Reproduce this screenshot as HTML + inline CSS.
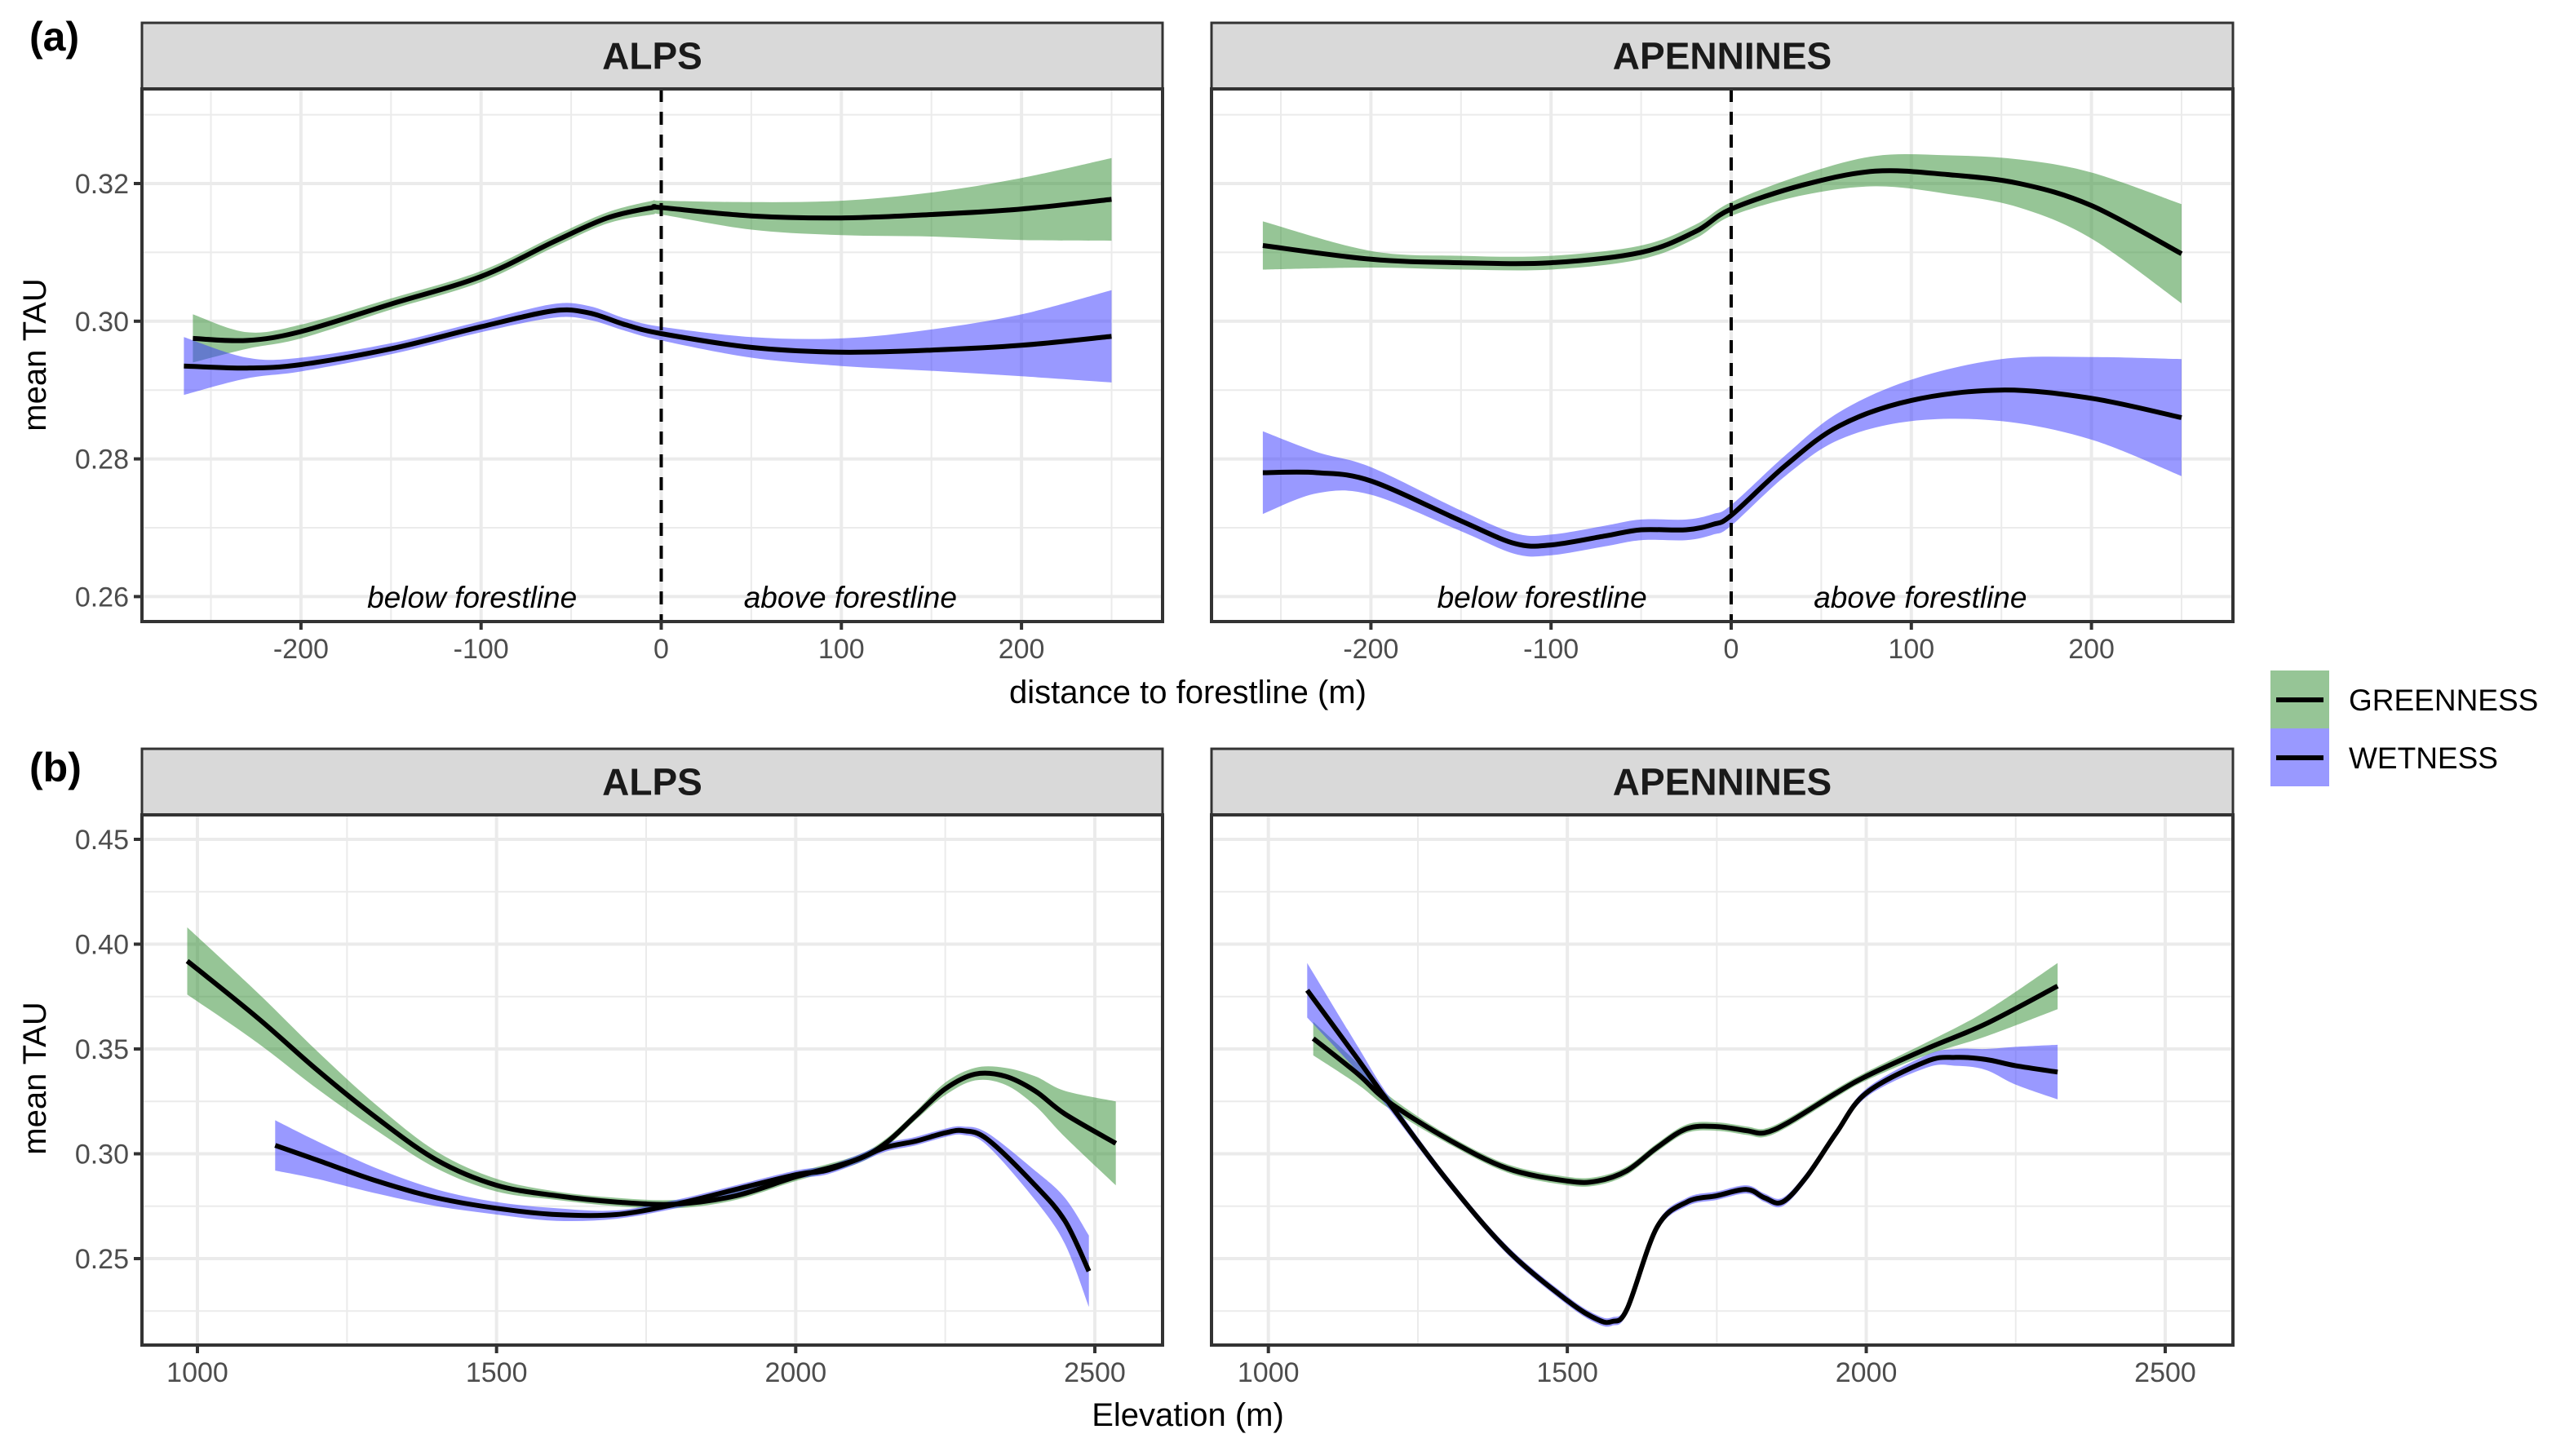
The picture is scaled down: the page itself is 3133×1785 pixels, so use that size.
<!DOCTYPE html>
<html><head><meta charset="utf-8">
<style>
html,body{margin:0;padding:0;background:#fff;}
svg{display:block;font-family:"Liberation Sans",Arial,sans-serif;}
</style></head>
<body>
<svg id="chart" width="3133" height="1785" viewBox="0 0 3133 1785" xmlns="http://www.w3.org/2000/svg">
<g id="root"></g>
</svg>
<script>
// ---- Panel (a): distance to forestline ----
const alpsDistX = [-260,-230,-200,-150,-100,-60,-30,-5,0,50,100,150,200,250];
const alpsGreenA = [0.2975,0.2972,0.2985,0.3025,0.3065,0.3115,0.3150,0.3165,0.3165,0.3153,0.3150,0.3155,0.3163,0.3177];
const alpsGreenAHw = [0.0035,0.0012,0.0010,0.0008,0.0008,0.0008,0.0008,0.0010,0.0010,0.0020,0.0025,0.0032,0.0045,0.0060];
const alpsWetDistX = [-265,-230,-200,-150,-100,-60,-40,-20,0,50,100,150,200,250];
const alpsWetA = [0.2935,0.2932,0.2937,0.2960,0.2992,0.3015,0.3012,0.2995,0.2982,0.2962,0.2955,0.2958,0.2965,0.2978];
const alpsWetAHw = [0.0042,0.0015,0.0010,0.0008,0.0008,0.0010,0.0010,0.0009,0.0010,0.0015,0.0020,0.0030,0.0045,0.0067];
const apeDistX = [-260,-200,-150,-100,-50,-20,0,40,80,120,160,200,250];
const apeGreenA = [0.3110,0.3090,0.3085,0.3085,0.3100,0.3130,0.3163,0.3198,0.3218,0.3213,0.3200,0.3168,0.3098];
const apeGreenAHw = [0.0035,0.0012,0.0010,0.0010,0.0010,0.0010,0.0010,0.0015,0.0022,0.0028,0.0035,0.0048,0.0072];
const apeWetDistX = [-260,-230,-200,-150,-120,-100,-70,-50,-25,-10,0,30,60,100,150,200,250];
const apeWetA = [0.2780,0.2780,0.2768,0.2710,0.2677,0.2675,0.2688,0.2697,0.2697,0.2705,0.2718,0.2790,0.2848,0.2885,0.2900,0.2888,0.2860];
const apeWetAHw = [0.0060,0.0030,0.0020,0.0015,0.0015,0.0015,0.0015,0.0015,0.0015,0.0015,0.0015,0.0015,0.0020,0.0030,0.0045,0.0060,0.0085];
const distTicks = [-200,-100,0,100,200];
const distTickLabels = ["-200","-100","0","100","200"];
const tauTicksA = [0.26,0.28,0.30,0.32];
const tauTickLabelsA = ["0.26","0.28","0.30","0.32"];

// ---- Panel (b): elevation ----
const alpsElevG = [983,1100,1200,1300,1400,1500,1600,1700,1800,1900,2000,2100,2150,2200,2250,2300,2350,2400,2450,2535];
const alpsGreenB = [0.392,0.365,0.340,0.317,0.297,0.285,0.280,0.277,0.276,0.280,0.289,0.297,0.305,0.318,0.331,0.338,0.337,0.330,0.319,0.305];
const alpsGreenBHw = [0.016,0.012,0.009,0.006,0.004,0.003,0.002,0.002,0.002,0.002,0.002,0.002,0.002,0.002,0.003,0.003,0.004,0.007,0.011,0.020];
const alpsElevW = [1130,1200,1300,1400,1500,1600,1700,1800,1900,2000,2050,2100,2150,2200,2250,2280,2320,2400,2450,2490];
const alpsWetB = [0.304,0.297,0.287,0.279,0.274,0.271,0.271,0.276,0.283,0.290,0.292,0.297,0.303,0.306,0.310,0.311,0.307,0.285,0.268,0.244];
const alpsWetBHw = [0.012,0.009,0.006,0.004,0.003,0.003,0.002,0.002,0.002,0.002,0.002,0.002,0.002,0.002,0.002,0.002,0.003,0.007,0.011,0.017];
const apeElevG = [1075,1150,1200,1300,1400,1500,1550,1600,1650,1700,1750,1800,1830,1870,1950,2000,2100,2200,2320];
const apeGreenB = [0.355,0.338,0.325,0.307,0.293,0.287,0.287,0.292,0.303,0.312,0.313,0.311,0.310,0.315,0.329,0.337,0.350,0.362,0.380];
const apeGreenBHw = [0.008,0.005,0.003,0.002,0.002,0.002,0.002,0.002,0.002,0.002,0.002,0.002,0.002,0.002,0.002,0.002,0.003,0.006,0.011];
const apeElevW = [1065,1150,1200,1300,1400,1500,1550,1575,1600,1650,1700,1750,1800,1830,1860,1900,1950,2000,2100,2150,2200,2250,2320];
const apeWetB = [0.378,0.345,0.325,0.287,0.254,0.230,0.221,0.220,0.226,0.265,0.277,0.280,0.283,0.279,0.277,0.289,0.310,0.329,0.344,0.346,0.345,0.342,0.339];
const apeWetBHw = [0.013,0.006,0.003,0.002,0.002,0.002,0.002,0.002,0.002,0.002,0.002,0.002,0.002,0.002,0.002,0.002,0.002,0.002,0.003,0.004,0.005,0.009,0.013];
const elevTicks = [1000,1500,2000,2500];
const elevTickLabels = ["1000","1500","2000","2500"];
const tauTicksB = [0.25,0.30,0.35,0.40,0.45];
const tauTickLabelsB = ["0.25","0.30","0.35","0.40","0.45"];

const NS = "http://www.w3.org/2000/svg";
const root = document.getElementById('root');
function mk(tag, attrs, parent){
  const e = document.createElementNS(NS, tag);
  for (const k in attrs) e.setAttribute(k, attrs[k]);
  (parent||root).appendChild(e);
  return e;
}
function smoothPath(pts){
  let d = "M"+pts[0][0].toFixed(1)+","+pts[0][1].toFixed(1);
  for (let i=0;i<pts.length-1;i++){
    const p0=pts[i-1]||pts[i], p1=pts[i], p2=pts[i+1], p3=pts[i+2]||p2;
    const c1=[p1[0]+(p2[0]-p0[0])/6, p1[1]+(p2[1]-p0[1])/6];
    const c2=[p2[0]-(p3[0]-p1[0])/6, p2[1]-(p3[1]-p1[1])/6];
    d+=" C"+c1[0].toFixed(1)+","+c1[1].toFixed(1)+" "+c2[0].toFixed(1)+","+c2[1].toFixed(1)+" "+p2[0].toFixed(1)+","+p2[1].toFixed(1);
  }
  return d;
}
function linScale(v0,p0,v1,p1){ return v => p0 + (v-v0)*(p1-p0)/(v1-v0); }

function panel(cfg){
  const g = mk('g',{});
  
  
  const {L,R,T,B,sy} = cfg;
  const xs = cfg.xs, ys = cfg.ys;
  const strip = mk('rect',{x:L,y:sy,width:R-L,height:T-sy,fill:'#d9d9d9',stroke:'#333',"stroke-width":3},g);
  
  
  const st = mk('text',{x:(L+R)/2,y:(sy+T)/2+16,"text-anchor":"middle","font-size":46,"font-weight":"bold",fill:'#1a1a1a'},g);
  st.textContent = cfg.title;
  
  
  const grid = mk('g',{},g);
  
  
  cfg.xMinor.forEach(v=>{const x=xs(v); if(x>L&&x<R) mk('line',{x1:x,x2:x,y1:T,y2:B,stroke:'#ebebeb',"stroke-width":2},grid);});
  cfg.yMinor.forEach(v=>{const y=ys(v); if(y>T&&y<B) mk('line',{x1:L,x2:R,y1:y,y2:y,stroke:'#ebebeb',"stroke-width":2},grid);});
  cfg.xTicks.forEach(v=>{const x=xs(v); mk('line',{x1:x,x2:x,y1:T,y2:B,stroke:'#ebebeb',"stroke-width":4},grid);});
  cfg.yTicks.forEach(v=>{const y=ys(v); mk('line',{x1:L,x2:R,y1:y,y2:y,stroke:'#ebebeb',"stroke-width":4},grid);});
  cfg.series.forEach(s=>{
    const up = s.x.map((v,i)=>[xs(v), ys(s.y[i]+s.hw[i])]);
    const lo = s.x.map((v,i)=>[xs(v), ys(s.y[i]-s.hw[i])]).reverse();
    let d = smoothPath(up);
    d += " L"+lo[0][0].toFixed(1)+","+lo[0][1].toFixed(1)+smoothPath(lo).replace(/^M[^C]*/,' ')+" Z";
    const band = mk('path',{d:d,fill:s.color,"fill-opacity":0.5,stroke:'none'},g);
    
    
  });
  cfg.series.forEach(s=>{
    const pts = s.x.map((v,i)=>[xs(v), ys(s.y[i])]);
    const ln = mk('path',{d:smoothPath(pts),fill:'none',stroke:'#000',"stroke-width":6},g);
    
    
  });
  if (cfg.vline){
    const x = xs(0);
    const vl = mk('line',{x1:x,x2:x,y1:T,y2:B,stroke:'#000',"stroke-width":4,"stroke-dasharray":"16,12"},g);
    
    
    const t1 = mk('text',{x:xs(-105),y:B-17,"text-anchor":"middle","font-size":37,"font-style":"italic",fill:'#000'},g);
    t1.textContent = 'below forestline';
    
    
    const t2 = mk('text',{x:xs(105),y:B-17,"text-anchor":"middle","font-size":37,"font-style":"italic",fill:'#000'},g);
    t2.textContent = 'above forestline';
    
    
  }
  mk('rect',{x:L,y:T,width:R-L,height:B-T,fill:'none',stroke:'#333',"stroke-width":4},g);
  cfg.xTicks.forEach((v,i)=>{
    const x=xs(v);
    mk('line',{x1:x,x2:x,y1:B,y2:B+10,stroke:'#333',"stroke-width":4},g);
    const t = mk('text',{x:x,y:B+45,"text-anchor":"middle","font-size":34,fill:'#4d4d4d'},g);
    t.textContent = cfg.xLabels[i];
    
    
  });
  if (cfg.showY){
    cfg.yTicks.forEach((v,i)=>{
      const y=ys(v);
      mk('line',{x1:L-10,x2:L,y1:y,y2:y,stroke:'#333',"stroke-width":4},g);
      const t = mk('text',{x:L-16,y:y+12,"text-anchor":"end","font-size":34,fill:'#4d4d4d'},g);
      t.textContent = cfg.yLabels[i];
      
      
    });
  }
}

const GREEN = '#2e8b2e', BLUE = '#3333ff';

panel({name:'alps-distance-panel',title:'ALPS',L:174,R:1425,sy:28,T:109,B:762,
  xs:linScale(0,810.5,100,1031.3), ys:linScale(0.30,393.8,0.32,225),
  xTicks:distTicks,xLabels:distTickLabels,yTicks:tauTicksA,yLabels:tauTickLabelsA,
  xMinor:[-250,-150,-50,50,150,250],yMinor:[0.27,0.29,0.31,0.33],showY:true,vline:true,
  series:[{key:'greenness',x:alpsDistX,y:alpsGreenA,hw:alpsGreenAHw,color:GREEN},
          {key:'wetness',x:alpsWetDistX,y:alpsWetA,hw:alpsWetAHw,color:BLUE}]});
panel({name:'apennines-distance-panel',title:'APENNINES',L:1485,R:2737,sy:28,T:109,B:762,
  xs:linScale(0,2122,100,2342.8), ys:linScale(0.30,393.8,0.32,225),
  xTicks:distTicks,xLabels:distTickLabels,yTicks:tauTicksA,yLabels:tauTickLabelsA,
  xMinor:[-250,-150,-50,50,150,250],yMinor:[0.27,0.29,0.31,0.33],showY:false,vline:true,
  series:[{key:'greenness',x:apeDistX,y:apeGreenA,hw:apeGreenAHw,color:GREEN},
          {key:'wetness',x:apeWetDistX,y:apeWetA,hw:apeWetAHw,color:BLUE}]});
panel({name:'alps-elevation-panel',title:'ALPS',L:174,R:1425,sy:918,T:999,B:1649,
  xs:linScale(1000,242,2500,1342), ys:linScale(0.45,1029,0.25,1543),
  xTicks:elevTicks,xLabels:elevTickLabels,yTicks:tauTicksB,yLabels:tauTickLabelsB,
  xMinor:[1250,1750,2250],yMinor:[0.225,0.275,0.325,0.375,0.425],showY:true,vline:false,
  series:[{key:'greenness',x:alpsElevG,y:alpsGreenB,hw:alpsGreenBHw,color:GREEN},
          {key:'wetness',x:alpsElevW,y:alpsWetB,hw:alpsWetBHw,color:BLUE}]});
panel({name:'apennines-elevation-panel',title:'APENNINES',L:1485,R:2737,sy:918,T:999,B:1649,
  xs:linScale(1000,1554.7,2500,2654), ys:linScale(0.45,1029,0.25,1543),
  xTicks:elevTicks,xLabels:elevTickLabels,yTicks:tauTicksB,yLabels:tauTickLabelsB,
  xMinor:[1250,1750,2250],yMinor:[0.225,0.275,0.325,0.375,0.425],showY:false,vline:false,
  series:[{key:'greenness',x:apeElevG,y:apeGreenB,hw:apeGreenBHw,color:GREEN},
          {key:'wetness',x:apeElevW,y:apeWetB,hw:apeWetBHw,color:BLUE}]});
</script>
<script>
(function(){
  const svg = document.getElementById('chart');
  const NS = "http://www.w3.org/2000/svg";
  function txt(x,y,s,attrs,name){
    const t = document.createElementNS(NS,'text');
    t.setAttribute('x',x); t.setAttribute('y',y);
    for (const k in attrs) t.setAttribute(k,attrs[k]);
    t.textContent = s;
    
    
    svg.appendChild(t);
    return t;
  }
  txt(36,62,'(a)',{"font-size":50,"font-weight":"bold"},'panel-label-a');
  txt(36,958,'(b)',{"font-size":50,"font-weight":"bold"},'panel-label-b');
  txt(1456,862,'distance to forestline (m)',{"font-size":40,"text-anchor":"middle"},'x-axis-title-distance');
  txt(1456,1748,'Elevation (m)',{"font-size":40,"text-anchor":"middle"},'x-axis-title-elevation');
  txt(0,0,'mean TAU',{"font-size":40,"text-anchor":"middle",transform:"translate(56,435) rotate(-90)"},'y-axis-title-a');
  txt(0,0,'mean TAU',{"font-size":40,"text-anchor":"middle",transform:"translate(56,1322) rotate(-90)"},'y-axis-title-b');
  const lg = document.createElementNS(NS,'g');
  
  
  svg.appendChild(lg);
  const items = [['GREENNESS','#2e8b2e',822],['WETNESS','#3333ff',893]];
  items.forEach(it=>{
    const r = document.createElementNS(NS,'rect');
    r.setAttribute('x',2783); r.setAttribute('y',it[2]); r.setAttribute('width',72); r.setAttribute('height',71);
    r.setAttribute('fill',it[1]); r.setAttribute('fill-opacity',0.5);
    
    
    lg.appendChild(r);
    const l = document.createElementNS(NS,'line');
    l.setAttribute('x1',2790); l.setAttribute('x2',2848); l.setAttribute('y1',it[2]+36); l.setAttribute('y2',it[2]+36);
    l.setAttribute('stroke','#000'); l.setAttribute('stroke-width',6);
    lg.appendChild(l);
    const t = document.createElementNS(NS,'text');
    t.setAttribute('x',2879); t.setAttribute('y',it[2]+49); t.setAttribute('font-size',37);
    t.textContent = it[0];
    
    
    lg.appendChild(t);
  });
})();
</script>
</body></html>
